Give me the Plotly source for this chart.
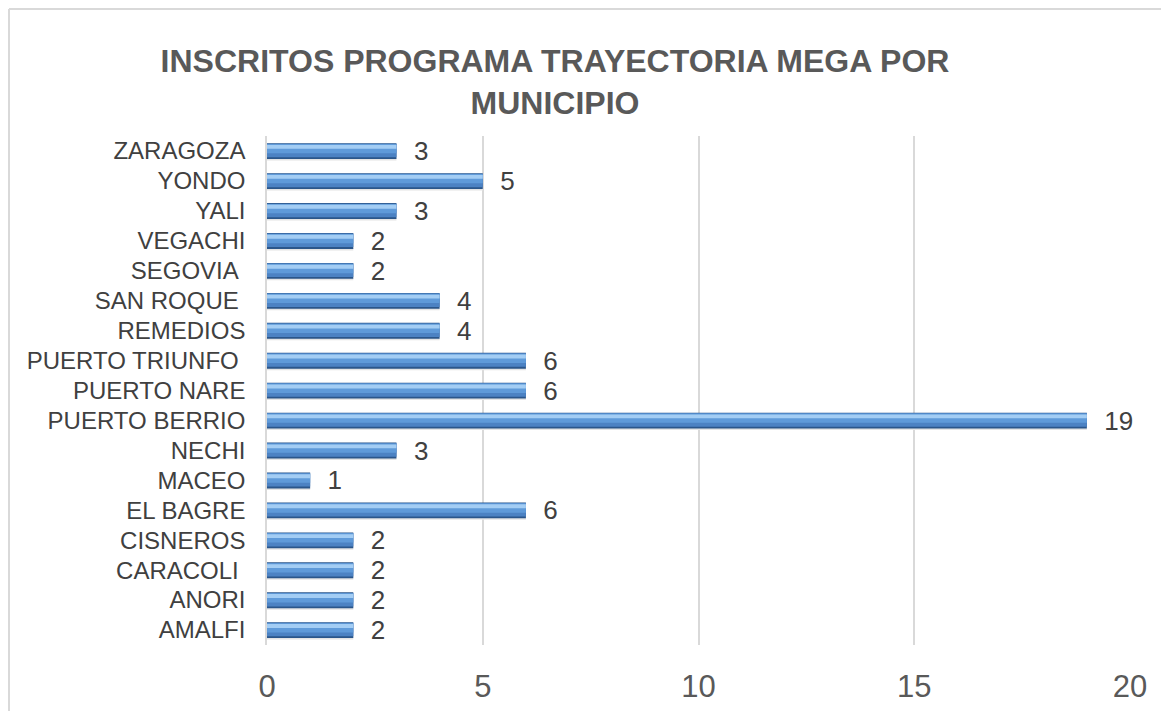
import plotly.graph_objects as go

municipios = ["AMALFI", "ANORI", "CARACOLI\u00a0", "CISNEROS", "EL BAGRE", "MACEO", "NECHI",
              "PUERTO BERRIO", "PUERTO NARE", "PUERTO TRIUNFO\u00a0", "REMEDIOS", "SAN ROQUE\u00a0",
              "SEGOVIA\u00a0", "VEGACHI", "YALI", "YONDO", "ZARAGOZA"]
inscritos = [2, 2, 2, 2, 6, 1, 3, 19, 6, 6, 4, 4, 2, 2, 3, 5, 3]
x_ticks = [0, 5, 10, 15, 20]

FONT = "Liberation Sans, Arial, sans-serif"
# the page has an 8px body margin, so the figure is 8px smaller than the window
W, H = 1161, 703
L, R, T, B = 259, 39, 128, 66
pw, ph = W - L - R, H - T - B

# bevelled-bar look built from stacked overlay layers: (offset, width, colour)
layers = [
    (-0.32, 0.08, "#E4E4E4"),   # soft shadow
    (-0.27, 0.53, "#2B568A"),   # dark edge
    (-0.21, 0.45, "#4C82C3"),   # lower body
    (-0.08, 0.31, "#5F9AD9"),   # upper body
    (0.07, 0.13, "#A3CDF4"),    # highlight
]

fig = go.Figure()
for i, (off, wid, col) in enumerate(layers):
    kw = {}
    if i == 1:
        kw = dict(text=inscritos, texttemplate="  %{x}", textposition="outside",
                  constraintext="none",
                  textfont=dict(size=26, color="#404040", family=FONT),
                  cliponaxis=False)
    fig.add_trace(go.Bar(
        y=municipios, x=inscritos, orientation="h",
        width=wid, offset=off,
        marker=dict(color=col, line=dict(width=0)),
        hoverinfo="skip", showlegend=False, **kw,
    ))

def px_x(p):
    return (p - L) / pw

def px_y(p):
    return (H - B - p) / ph

fig.update_layout(
    width=W, height=H,
    barmode="overlay",
    paper_bgcolor="white", plot_bgcolor="white",
    margin=dict(l=L, r=R, t=T, b=B, autoexpand=False),
    title=dict(
        text="INSCRITOS PROGRAMA TRAYECTORIA MEGA POR<br>MUNICIPIO",
        x=547 / W, xanchor="center", xref="container",
        y=1 - 64 / H, yanchor="top", yref="container",
        font=dict(size=32, color="#595959", family=FONT, weight="bold"),
    ),
    xaxis=dict(
        range=[0, 20], tickvals=x_ticks, ticktext=[str(v) for v in x_ticks],
        showgrid=True, gridcolor="#D9D9D9", gridwidth=1.5,
        zeroline=False, showline=False, ticks="",
        tickfont=dict(size=31, color="#595959", family=FONT),
        ticklabelstandoff=20,
    ),
    yaxis=dict(
        type="category", categoryorder="array", categoryarray=municipios,
        range=[-0.5, len(municipios) - 0.5],
        showgrid=False, zeroline=False,
        showline=True, linecolor="#D9D9D9", linewidth=1.5,
        ticks="", tickfont=dict(size=24, color="#404040", family=FONT),
        ticklabelstandoff=15,
    ),
    shapes=[
        dict(type="line", xref="paper", yref="paper",
             x0=px_x(1), x1=px_x(W + 5), y0=px_y(1), y1=px_y(1),
             line=dict(color="#D9D9D9", width=2)),
        dict(type="line", xref="paper", yref="paper",
             x0=px_x(1), x1=px_x(1), y0=px_y(1), y1=px_y(H + 5),
             line=dict(color="#D9D9D9", width=2)),
    ],
)

fig.write_html("out.html")
